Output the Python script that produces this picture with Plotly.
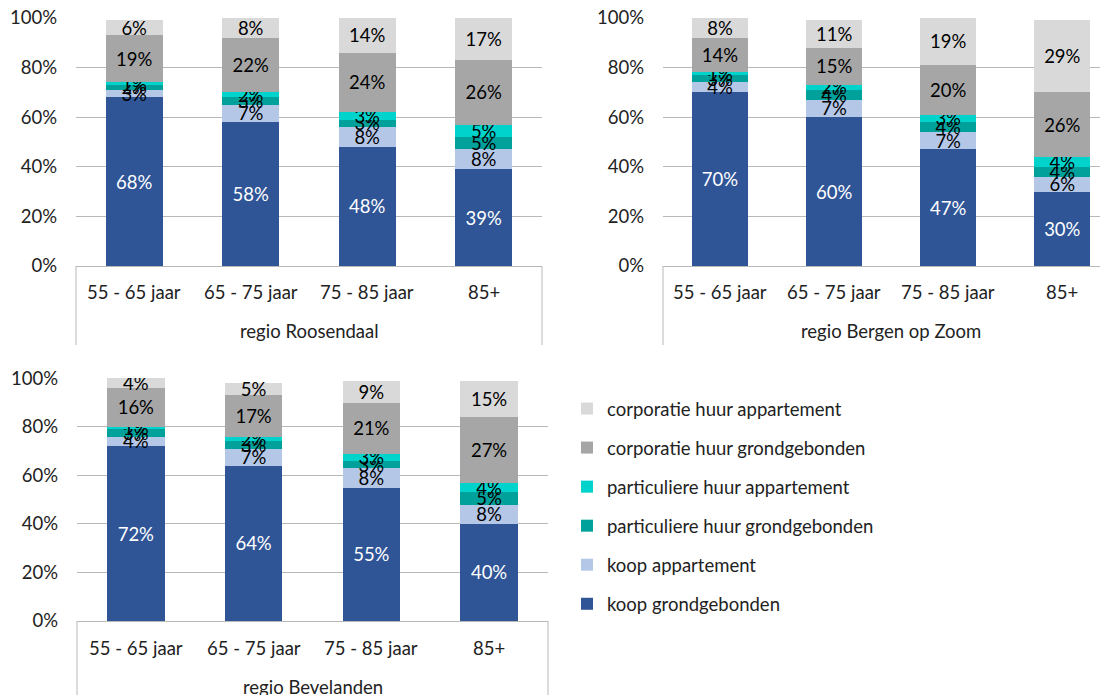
import plotly.graph_objects as go

categories = ["55 - 65 jaar", "65 - 75 jaar", "75 - 85 jaar", "85+"]
regions = ["regio Roosendaal", "regio Bergen op Zoom", "regio Bevelanden"]
series_names = [
    "koop grondgebonden",
    "koop appartement",
    "particuliere huur grondgebonden",
    "particuliere huur appartement",
    "corporatie huur grondgebonden",
    "corporatie huur appartement",
]
colors = ["#2F5597", "#B4C7E7", "#00A19B", "#00D3CB", "#A6A6A6", "#D9D9D9"]
text_colors = ["#FFFFFF", "#000000", "#000000", "#000000", "#000000", "#000000"]
y_ticks = [0, 0.2, 0.4, 0.6, 0.8, 1.0]
y_tick_labels = ["0%", "20%", "40%", "60%", "80%", "100%"]

# values in percent, per series, per category
roosendaal = {
    "koop grondgebonden": [68, 58, 48, 39],
    "koop appartement": [3, 7, 8, 8],
    "particuliere huur grondgebonden": [2, 3, 3, 5],
    "particuliere huur appartement": [1, 2, 3, 5],
    "corporatie huur grondgebonden": [19, 22, 24, 26],
    "corporatie huur appartement": [6, 8, 14, 17],
}
bergen_op_zoom = {
    "koop grondgebonden": [70, 60, 47, 30],
    "koop appartement": [4, 7, 7, 6],
    "particuliere huur grondgebonden": [3, 4, 4, 4],
    "particuliere huur appartement": [1, 2, 3, 4],
    "corporatie huur grondgebonden": [14, 15, 20, 26],
    "corporatie huur appartement": [8, 11, 19, 29],
}
bevelanden = {
    "koop grondgebonden": [72, 64, 55, 40],
    "koop appartement": [4, 7, 8, 8],
    "particuliere huur grondgebonden": [3, 3, 3, 5],
    "particuliere huur appartement": [1, 2, 3, 4],
    "corporatie huur grondgebonden": [16, 17, 21, 27],
    "corporatie huur appartement": [4, 5, 9, 15],
}
datasets = [roosendaal, bergen_op_zoom, bevelanden]

# page body has an 8px margin; figure fills the rest of the window
OFF = 8
W, H = 1108 - OFF, 695 - OFF
FONT = "Lato"
FS = 18.5
GRID = "#B8B8B8"

def px_x(p):
    return (p - OFF) / W

def px_y(p):
    return 1 - (p - OFF) / H

fig = go.Figure()
axes = [("x", "y"), ("x2", "y2"), ("x3", "y3")]

for i, (data, (xa, ya)) in enumerate(zip(datasets, axes)):
    for j, name in enumerate(series_names):
        vals = data[name]
        fig.add_trace(go.Bar(
            x=categories,
            y=[v / 100 for v in vals],
            text=[f"{v}%" for v in vals],
            name=name,
            legendgroup=name,
            legendrank=100 - j,
            showlegend=(i == 0),
            marker=dict(color=colors[j], line=dict(width=0)),
            textposition="inside",
            insidetextanchor="middle",
            textangle=0,
            constraintext="none",
            textfont=dict(color=text_colors[j], size=FS, family=FONT),
            width=0.49,
            xaxis=xa,
            yaxis=ya,
            hoverinfo="skip",
        ))

# plot areas (page pixels)
areas = [
    dict(x0=76, x1=542, top=17.5, bottom=266, rng=[-0.5, 3.5], cat_y=292, grp_y=331, vbot=345, right_line=True),
    dict(x0=663, x1=1108, top=17.5, bottom=266, rng=[-0.5, 3.4], cat_y=292, grp_y=331, vbot=345, right_line=False),
    dict(x0=77, x1=548, top=378, bottom=621, rng=[-0.5, 3.5], cat_y=648, grp_y=687, vbot=700, right_line=True),
]

layout_axes = {}
annotations = []
shapes = []
for i, a in enumerate(areas):
    sfx = "" if i == 0 else str(i + 1)
    xname = "x" + sfx
    layout_axes["xaxis" + sfx] = dict(
        domain=[max(0, px_x(a["x0"])), min(1, px_x(a["x1"]))],
        anchor="y" + sfx,
        range=a["rng"],
        type="category",
        showticklabels=False,
        showline=True,
        linecolor=GRID,
        linewidth=1,
        showgrid=False,
        fixedrange=True,
    )
    layout_axes["yaxis" + sfx] = dict(
        domain=[max(0, px_y(a["bottom"])), min(1, px_y(a["top"]))],
        anchor="x" + sfx,
        range=[0, 1.0015],
        tickmode="array",
        tickvals=y_ticks,
        ticktext=y_tick_labels,
        ticklabeloverflow="allow",
        showgrid=True,
        gridcolor=GRID,
        gridwidth=1,
        zeroline=False,
        showline=False,
        ticklabelstandoff=18,
        tickfont=dict(family=FONT, size=FS, color="#222222"),
        fixedrange=True,
    )
    for c in categories:
        annotations.append(dict(
            x=c, xref=xname, y=px_y(a["cat_y"]), yref="paper",
            text=c, showarrow=False, xanchor="center", yanchor="middle",
            font=dict(family=FONT, size=FS, color="#222222"),
        ))
    annotations.append(dict(
        x=1.5, xref=xname, y=px_y(a["grp_y"]), yref="paper",
        text=regions[i], showarrow=False, xanchor="center", yanchor="middle",
        font=dict(family=FONT, size=FS, color="#222222"),
    ))
    line_xs = [0, 1] if a["right_line"] else [0]
    for lx in line_xs:
        shapes.append(dict(
            type="line", xref=xname + " domain", x0=lx, x1=lx,
            yref="paper", y0=px_y(a["bottom"]), y1=px_y(a["vbot"]),
            line=dict(color=GRID, width=1),
        ))

fig.update_layout(
    width=W,
    height=H,
    autosize=False,
    margin=dict(l=0, r=0, t=0, b=0, pad=0, autoexpand=False),
    paper_bgcolor="white",
    plot_bgcolor="white",
    barmode="stack",
    font=dict(family=FONT, size=FS, color="#222222"),
    uniformtext=dict(mode="show", minsize=FS),
    showlegend=True,
    legend=dict(
        x=px_x(567), y=px_y(390), xanchor="left", yanchor="top",
        traceorder="grouped",
        tracegroupgap=12,
        font=dict(family=FONT, size=FS, color="#222222"),
        itemwidth=30,
        bgcolor="rgba(0,0,0,0)",
    ),
    annotations=annotations,
    shapes=shapes,
    **layout_axes,
)

fig.write_html("out.html")
